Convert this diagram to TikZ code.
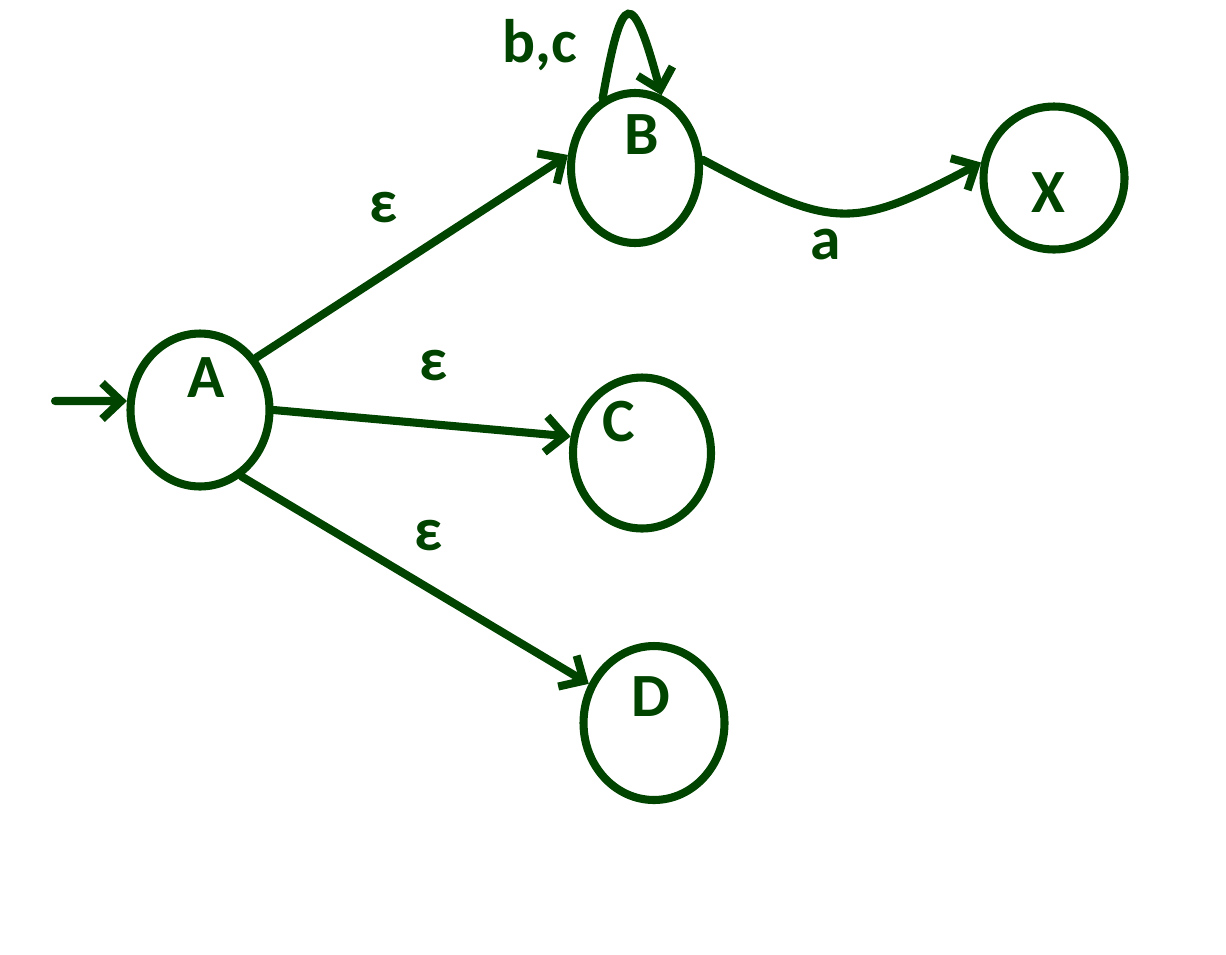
\documentclass[tikz,border=0pt]{standalone}
\usepackage{fontspec}
\setmainfont{Carlito}
\usetikzlibrary{shapes.geometric,arrows.meta,positioning}
\definecolor{nfagreen}{HTML}{004400}

\begin{document}
\begin{tikzpicture}[x=0.02cm, y=0.02cm,
    state/.style={draw=nfagreen, ellipse, line width=4.6pt, inner sep=0pt},
    symb/.style={text=nfagreen, font=\fontsize{35}{40}\selectfont\bfseries},
    trans/.style={draw=nfagreen, line width=4.6pt, line cap=round,
        -{Straight Barb[length=0.38cm, width=0.72cm]}}]
    \useasboundingbox (0,0) rectangle (1226,-954);

    % States
    \node[state, minimum width=2.78cm, minimum height=3.06cm] (A) at (200,-410) {};
    \node[state, minimum width=2.56cm, minimum height=3.00cm] (B) at (635,-168) {};
    \node[state, minimum width=2.76cm, minimum height=3.02cm] (C) at (642,-453) {};
    \node[state, minimum width=2.82cm, minimum height=3.08cm] (D) at (654,-723) {};
    \node[state, minimum width=2.82cm, minimum height=2.86cm] (X) at (1054,-178) {};

    \node[symb] (Aname) at (206,-378) {A};
    \node[symb] (Bname) at (642,-135) {B};
    \node[symb] (Cname) at (619,-422) {C};
    \node[symb] (Dname) at (651,-697) {D};
    \node[symb] (Xname) at (1048,-193) {X};

    % Transitions
    \coordinate (start) at (55,-401);
    \draw[trans] (start) -- (A.173);
    \draw[trans] (A.43) -- (B.169);
    \draw[trans] (A.0) -- (C.167);
    \draw[trans] (A.-58) -- (D.149);
    \draw[trans] (B.7) to[out=-28, in=208, looseness=1.35] (X.168);
    \draw[trans] (B.115) .. controls +(80:112) and +(105:112) .. (B.70);

    \node[symb] (eps1) at (384,-208) {ε};
    \node[symb] (eps2) at (434,-366) {ε};
    \node[symb] (eps3) at (429,-536) {ε};
    \node[symb] (loop) at (540,-45) {b,c};
    \node[symb] (sym) at (826,-245) {a};
\end{tikzpicture}
\end{document}
